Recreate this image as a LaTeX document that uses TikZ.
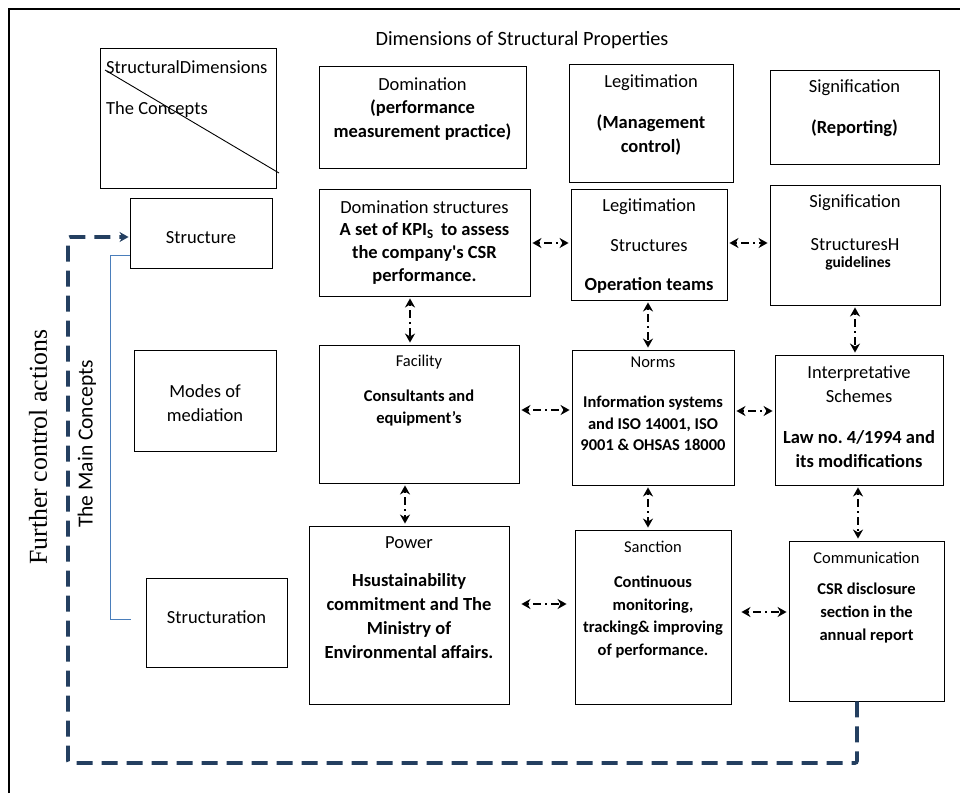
\documentclass[tikz,border=0pt]{standalone}
\usepackage{fontspec}
\setmainfont{Carlito}
\newfontfamily\timesfont{Liberation Serif}
\usepackage{xcolor}
\usetikzlibrary{arrows.meta, positioning, calc}
\definecolor{navy}{HTML}{243F60}
\definecolor{bracketblue}{HTML}{4A7EBB}
\frenchspacing

\begin{document}
\begin{tikzpicture}[x=1pt, y=-1pt, >=Stealth,
    box/.style={draw, line width=0.9pt, inner sep=0pt},
    txt/.style={font=\fontsize{18.5}{24}\selectfont, align=center, inner sep=0pt},
    btxt/.style={font=\fontsize{18.5}{24}\selectfont\bfseries, align=center, inner sep=0pt},
    stxt/.style={font=\fontsize{16.5}{22.5}\selectfont, align=center, inner sep=0pt},
    sbtxt/.style={font=\fontsize{16.5}{22.5}\selectfont\bfseries, align=center, inner sep=0pt},
    link/.style={{Stealth[length=9pt,width=10pt]}-{Stealth[length=9pt,width=10pt]}, line width=1.9pt, dash pattern=on 2pt off 4pt on 8pt off 4pt, shorten <=2pt, shorten >=2pt},
    feedback/.style={-{Stealth[length=9pt,width=10pt]}, navy, line width=3.6pt, dash pattern=on 16pt off 9pt, rounded corners=2pt}]
    \useasboundingbox (0,0) rectangle (960,793);
    % frame
    \draw[line width=2pt] (9,793) -- (9,9) -- (960,9);

    % corner box
    \node[box, minimum width=176, minimum height=140] (corner) at (188,118) {};
    \draw[line width=0.9pt] (105,70) -- (279,173);
    \node[txt, anchor=west] (cornerA) at (106,67) {StructuralDimensions};
    \node[txt, anchor=west] (cornerB) at (106,110) {The Concepts};
    \node[txt, font=\fontsize{20.3}{24}\selectfont] (title) at (522,40) {Dimensions of Structural Properties};

    % dimensions
    \node[box, minimum width=207, minimum height=102] (dom) at (422.5,117) {};
    \node[txt] (domT) at (422.5,84) {Domination};
    \node[btxt] (domB) at (422.5,120) {(performance\\measurement practice)};
    \node[box, minimum width=164, minimum height=118] (leg) at (651,123) {};
    \node[txt] (legT) at (651,83) {Legitimation};
    \node[btxt] (legB) at (651,135) {(Management\\control)};
    \node[box, minimum width=169, minimum height=94] (sig) at (854.5,117) {};
    \node[txt] (sigT) at (854.5,88) {Signification};
    \node[btxt] (sigB) at (854.5,128) {(Reporting)};

    % structure row
    \node[box, minimum width=142, minimum height=70] (struct) at (201,233) {};
    \node[txt] (structT) at (201,238) {Structure};
    \node[box, minimum width=211, minimum height=107] (domS) at (424.5,242.5) {};
    \node[txt] (domST) at (424.5,207) {Domination structures};
    \node[btxt, font=\fontsize{18.5}{23}\selectfont\bfseries] (domSB) at (424.5,253.5) {A set of KPI\textsubscript{S}\, to assess\\the company\textquotesingle s CSR\\performance.};
    \node[box, minimum width=156, minimum height=111] (legS) at (649,244.5) {};
    \node[txt] (legST) at (649,207) {Legitimation};
    \node[txt] (legSM) at (649,246) {Structures};
    \node[btxt] (legSB) at (649,285) {Operation teams};
    \node[box, minimum width=170, minimum height=120] (sigS) at (855,245) {};
    \node[txt] (sigST) at (855,203) {Signification};
    \node[txt] (sigSM) at (855,245) {StructuresH};
    \node[btxt, font=\fontsize{15.5}{20}\selectfont\bfseries] (sigSB) at (858,263) {guidelines};

    % mediation row
    \node[box, minimum width=142, minimum height=101] (modes) at (205,400.5) {};
    \node[txt] (modesT) at (205,403) {Modes of\\mediation};
    \node[box, minimum width=200, minimum height=138] (fac) at (419,414) {};
    \node[stxt] (facT) at (419,362) {Facility};
    \node[sbtxt] (facB) at (419,408) {Consultants and\\equipment’s};
    \node[box, minimum width=162, minimum height=135] (norms) at (653,417.5) {};
    \node[stxt] (normsT) at (653,362) {Norms};
    \node[sbtxt, font=\fontsize{16.5}{21.5}\selectfont\bfseries] (normsB) at (653,423.5) {Information systems\\and ISO 14001, ISO\\9001 \& OHSAS 18000};
    \node[box, minimum width=168, minimum height=130] (interp) at (859,420) {};
    \node[txt] (interpT) at (859,384) {Interpretative\\Schemes};
    \node[btxt] (interpB) at (859,449) {Law no. 4/1994 and\\its modifications};

    % structuration row
    \node[box, minimum width=141, minimum height=89] (structn) at (216.5,622.5) {};
    \node[txt] (structnT) at (216.5,617) {Structuration};
    \node[box, minimum width=200, minimum height=178] (pow) at (409,615) {};
    \node[txt] (powT) at (409,543) {Power};
    \node[btxt] (powB) at (409,616) {Hsustainability\\commitment and The\\Ministry of\\Environmental affairs.};
    \node[box, minimum width=156, minimum height=174] (sanc) at (653,617) {};
    \node[stxt] (sancT) at (653,547) {Sanction};
    \node[sbtxt] (sancB) at (653,617) {Continuous\\monitoring,\\tracking\& improving\\of performance.};
    \node[box, minimum width=155, minimum height=160] (comm) at (866.5,621) {};
    \node[stxt] (commT) at (866.5,558) {Communication};
    \node[sbtxt, font=\fontsize{16.5}{23}\selectfont\bfseries] (commB) at (866.5,613) {CSR disclosure\\section in the\\annual report};

    % side labels
    \node[font=\fontsize{21.5}{24}\selectfont, rotate=90, inner sep=0pt] (mainc) at (87,444) {The Main Concepts};
    \node[font=\timesfont\fontsize{25.8}{30}\selectfont, rotate=90, inner sep=0pt] (further) at (38,447) {Further control actions};
    \draw[bracketblue, line width=0.9pt] (struct.west |- 0,255) -- (110,255) |- (131,619);

    % links
    \draw[link] (domS.east |- 0,243) -- (legS.west |- 0,243);
    \draw[link] (legS.east |- 0,243) -- (sigS.west |- 0,243);
    \draw[link] (fac.east |- 0,410) -- (norms.west |- 0,410);
    \draw[link] (norms.east |- 0,411) -- (interp.west |- 0,411);
    \draw[link, shorten <=12pt, shorten >=8pt] (pow.east |- 0,604) -- (sanc.west |- 0,604);
    \draw[link, shorten <=10pt] (sanc.east |- 0,612) -- (comm.west |- 0,612);
    \draw[link] (410,0 |- domS.south) -- (410,0 |- fac.north);
    \draw[link] (648,0 |- legS.south) -- (648,0 |- norms.north);
    \draw[link] (855,0 |- sigS.south) -- (855,0 |- interp.north);
    \draw[link] (405,0 |- fac.south) -- (405,0 |- pow.north);
    \draw[link] (648,0 |- norms.south) -- (648,0 |- sanc.north);
    \draw[link] (858,0 |- interp.south) -- (858,0 |- comm.north);

    % further control actions
    \draw[feedback] (857,0 |- comm.south) |- (68,763) |- ([xshift=-1pt]struct.west |- 0,237);
\end{tikzpicture}
\end{document}
